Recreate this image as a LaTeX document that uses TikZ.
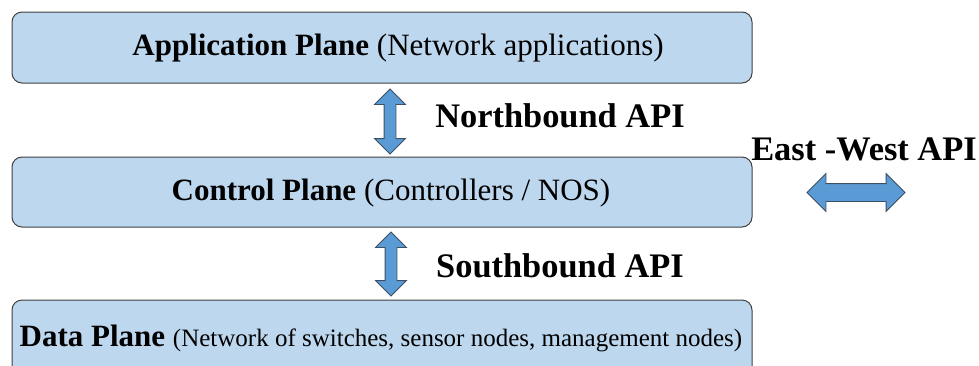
\documentclass[tikz,border=0pt]{standalone}
\usepackage{fontspec}
\setmainfont{Liberation Serif}
\usetikzlibrary{shapes.arrows}
\definecolor{boxfill}{RGB}{189,215,238}
\definecolor{boxline}{RGB}{64,64,64}
\definecolor{arrfill}{RGB}{91,155,213}
\definecolor{arrline}{RGB}{60,80,100}
\begin{document}
\begin{tikzpicture}[x=1pt,y=-1pt,
  plane/.style={draw=boxline, line width=1pt, fill=boxfill, rounded corners=10pt},
  dblarrow/.style={double arrow, draw=arrline, line width=0.8pt, fill=arrfill, inner xsep=0pt,
     inner ysep=5.5pt, double arrow head extend=9.5pt},
  label/.style={inner sep=0pt, font=\fontsize{31}{35}\selectfont},
  api/.style={font=\fontsize{34.4}{38}\selectfont\bfseries, inner sep=0pt}
]
\useasboundingbox (0,0) rectangle (979,365);
\begin{scope}
\clip (0,0) rectangle (979,365);
\draw[plane] (12,12) rectangle (752,83);
\draw[plane] (12,157) rectangle (752,227);
\draw[plane] (12,300) rectangle (752,390);
\end{scope}
\node[label] (app) at (398,48) {\textbf{Application Plane} (Network applications)};
\node[label] (ctl) at (391,193) {\textbf{Control Plane} (Controllers / NOS)};
\node[label] (dat) at (381,338) {\textbf{Data Plane} \fontsize{25}{29}\selectfont(Network of switches, sensor nodes, management nodes)};
\node[dblarrow, rotate=90, minimum height=65pt] (nb) at (390,121.5) {};
\node[dblarrow, rotate=90, minimum height=64pt] (sb) at (391,264) {};
\node[dblarrow, minimum height=98pt, double arrow head extend=10pt, inner ysep=8.5pt] (ew) at (856,192.5) {};
\node[api] (nbt) at (560,116) {Northbound API};
\node[api] (sbt) at (560,266) {Southbound API};
\node[api] (ewt) at (864,149) {East -West API};
\end{tikzpicture}
\end{document}
